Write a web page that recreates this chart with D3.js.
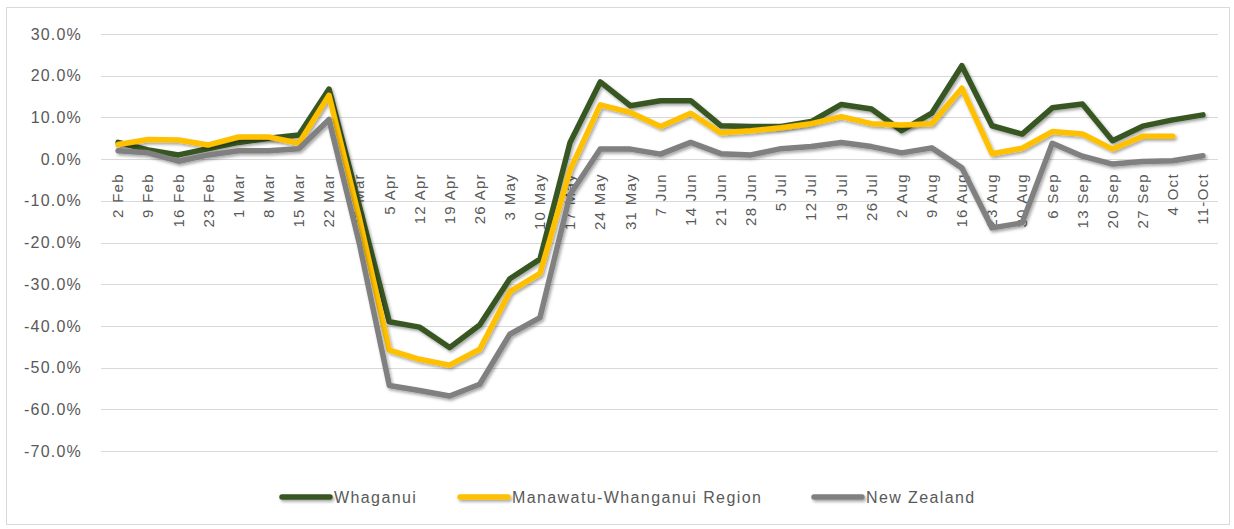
<!DOCTYPE html>
<html>
<head>
<meta charset="utf-8">
<script src="https://cdn.jsdelivr.net/npm/d3@7"></script>
<style>
  body { margin: 0; background: #fff; }
  text { font-family: "Liberation Sans", Arial, sans-serif; fill: #595959; }
</style>
</head>
<body>
<svg id="chart"></svg>
<script>
const weeks = ["2 Feb", "9 Feb", "16 Feb", "23 Feb", "1 Mar", "8 Mar", "15 Mar", "22 Mar", "29 Mar",
  "5 Apr", "12 Apr", "19 Apr", "26 Apr", "3 May", "10 May", "17 May", "24 May", "31 May",
  "7 Jun", "14 Jun", "21 Jun", "28 Jun", "5 Jul", "12 Jul", "19 Jul", "26 Jul",
  "2 Aug", "9 Aug", "16 Aug", "23 Aug", "30 Aug", "6 Sep", "13 Sep", "20 Sep", "27 Sep", "4 Oct", "11-Oct"];

const whaganui = [4.0, 2.2, 1.0, 2.5, 4.0, 5.0, 5.8, 16.8, -11, -39.0, -40.3, -45.2, -39.8, -28.7, -24.0,
  4.0, 18.5, 12.8, 14.0, 14.0, 8.0, 7.8, 7.8, 9.0, 13.1, 12.0, 6.8, 11.0, 22.4, 8.0, 6.0, 12.3, 13.2,
  4.4, 7.9, 9.4, 10.6];

const region = [3.5, 4.7, 4.6, 3.4, 5.3, 5.3, 3.8, 15.3, -14, -45.8, -48.0, -49.4, -45.6, -31.8, -27.4,
  -2.6, 13.0, 11.2, 7.8, 11.0, 6.3, 6.8, 7.5, 8.5, 10.2, 8.5, 8.2, 8.5, 17.0, 1.3, 2.6, 6.6, 6.0,
  2.4, 5.5, 5.5, null];

const newZealand = [2.0, 1.5, -0.5, 1.0, 2.0, 2.0, 2.5, 9.5, -20, -54.3, -55.5, -56.8, -54.0, -42.0, -38.0,
  -8.5, 2.4, 2.4, 1.2, 4.0, 1.3, 1.0, 2.5, 3.0, 4.0, 3.0, 1.5, 2.7, -2.1, -16.5, -15.3, 3.8, 0.7,
  -1.2, -0.6, -0.4, 0.8];

const yTicks = [30, 20, 10, 0, -10, -20, -30, -40, -50, -60, -70];

const seriesNames = ["Whaganui", "Manawatu-Whanganui Region", "New Zealand"];
const seriesColors = ["#375623", "#ffc000", "#808080"];
const seriesValues = [whaganui, region, newZealand];

const width = 1234;
const height = 529;

const svg = d3.select("#chart").attr("width", width).attr("height", height);

// soft shadow like the office chart (user space, big region so flat legend lines keep it)
const defs = svg.append("defs");
defs.append("filter")
  .attr("id", "shadow")
  .attr("filterUnits", "userSpaceOnUse")
  .attr("x", -100).attr("y", -600).attr("width", width + 200).attr("height", height + 1200)
  .append("feDropShadow")
  .attr("dx", 1.5).attr("dy", 2).attr("stdDeviation", 1.5)
  .attr("flood-color", "#000").attr("flood-opacity", 0.35);

svg.append("rect")
  .attr("x", 6.5).attr("y", 7.5)
  .attr("width", 1223).attr("height", 517)
  .attr("fill", "#fff").attr("stroke", "#d9d9d9");

const xScale = d3.scalePoint().domain(weeks).range([103, 1218]).padding(0.5);
const yScale = d3.scaleLinear().domain([-70, 30]).range([451, 34]);

// gridlines
svg.append("g")
  .selectAll("line")
  .data(yTicks)
  .enter()
  .append("line")
  .attr("x1", 101).attr("x2", 1218)
  .attr("y1", (d) => Math.round(yScale(d)) + 0.5)
  .attr("y2", (d) => Math.round(yScale(d)) + 0.5)
  .attr("stroke", "#d9d9d9")
  .attr("stroke-width", 1);

const yAxis = d3.axisLeft(yScale)
  .tickValues(yTicks)
  .tickFormat((d) => d.toFixed(1) + "%")
  .tickSize(0)
  .tickPadding(0);

svg.append("g")
  .attr("transform", "translate(82, 0)")
  .call(yAxis)
  .call((g) => g.select(".domain").remove())
  .selectAll("text")
  .attr("font-size", "16px")
  .attr("letter-spacing", "1.2px")
  .attr("font-family", "Liberation Sans, Arial, sans-serif")
  .attr("fill", "#595959");

// category labels along the zero line
const y0 = yScale(0);
svg.append("g")
  .selectAll("text")
  .data(weeks)
  .enter()
  .append("text")
  .attr("transform", (d) => `translate(${xScale(d)}, ${y0 + 14}) rotate(-90)`)
  .attr("text-anchor", "end")
  .attr("dy", "0.35em")
  .attr("font-size", "15px")
  .attr("letter-spacing", "1.3px")
  .text((d) => d);

const line = d3.line()
  .defined((d) => d !== null)
  .x((d, i) => xScale(weeks[i]))
  .y((d) => yScale(d));

seriesValues.forEach((vals, i) => {
  svg.append("path")
    .datum(vals)
    .attr("d", line)
    .attr("fill", "none")
    .attr("stroke", seriesColors[i])
    .attr("stroke-width", 5.5)
    .attr("stroke-linejoin", "round")
    .attr("stroke-linecap", "round")
    .attr("filter", "url(#shadow)");
});

// legend
const legendX = [282, 460, 814];
const legend = svg.append("g").attr("transform", "translate(0, 497)");
seriesNames.forEach((name, i) => {
  legend.append("line")
    .attr("x1", legendX[i]).attr("x2", legendX[i] + 48)
    .attr("y1", 0).attr("y2", 0)
    .attr("stroke", seriesColors[i])
    .attr("stroke-width", 5.5)
    .attr("stroke-linecap", "round")
    .attr("filter", "url(#shadow)");
  legend.append("text")
    .attr("x", legendX[i] + 52)
    .attr("y", 0)
    .attr("dy", "0.35em")
    .attr("font-size", "16px")
    .attr("letter-spacing", "1.4px")
    .text(name);
});
</script>
</body>
</html>
